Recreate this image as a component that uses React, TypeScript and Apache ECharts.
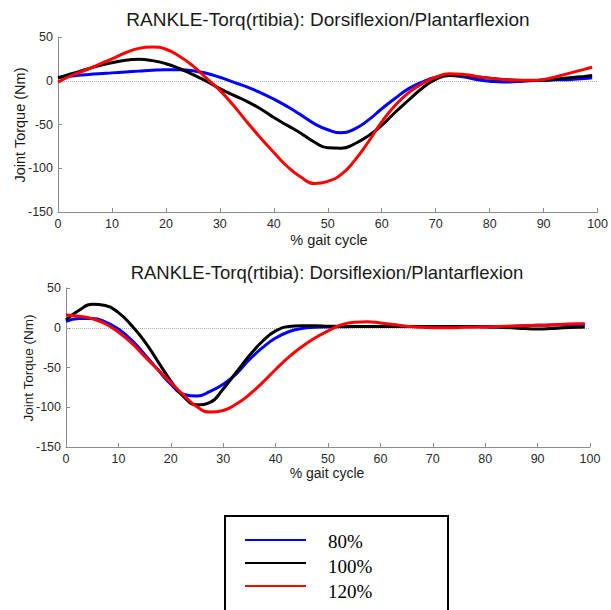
import React, { useEffect, useRef } from "react";
import * as echarts from "echarts";

// % gait cycle sample positions (shared by all series)
const gaitPct = [
  0, 2.5, 5, 7.5, 10, 12.5, 15, 17.5, 20, 22.5, 25, 27.5, 30, 32.5, 35, 37.5, 40,
  42.5, 45, 47.5, 50, 52.5, 55, 57.5, 60, 62.5, 65, 67.5, 70, 72.5, 75, 77.5, 80,
  82.5, 85, 87.5, 90, 92.5, 95, 97.5, 99,
];

// Top panel
const top80 = [
  4, 5.5, 6.8, 8, 9, 10, 11, 12, 12.5, 12.5, 11.5, 8.5, 4, -1.5, -7, -13.5, -21,
  -29.5, -39, -49, -56, -59.5, -55, -45, -32, -20, -9, -1.5, 4, 6, 4.5, 1.5, -0.5,
  -1.5, -1, 0, 0.5, 1, 1.5, 2.5, 3.5,
];
const top100 = [
  3, 8, 12.5, 17, 20.5, 23.5, 24.5, 23, 19.5, 14, 7, -0.5, -9, -16.5, -23.5, -32, -42,
  -51, -60, -70, -76.5, -77, -72, -63, -51, -36, -22, -8.5, 1.5, 6, 6, 4.5, 3, 1.5,
  0.5, 0.3, 0.5, 2, 3.5, 5, 6,
];
const top120 = [
  -1.5, 6, 12, 18.5, 25, 32, 37, 38.5, 36, 28, 17, 3, -11, -28, -47, -65, -82, -98,
  -110, -117.5, -115, -107, -91, -70, -47, -28, -13.5, -3.5, 4, 8, 7.5, 5, 3, 1.5,
  0.5, 0.5, 1.5, 5, 9, 13, 15.5,
];

// Bottom panel
const bot80 = [
  8, 11.5, 11.5, 7.5, -1.7, -15.5, -33.5, -52.5, -71, -84, -86, -80, -71, -58, -40,
  -25, -13, -5, -1, 0.5, 1, 1.3, 1.5, 1.5, 1.5, 1.5, 1.5, 1.5, 1.5, 1.5, 1.5, 1.5,
  1.5, 1.5, 2, 2.5, 3, 3.5, 3.5, 4, 4,
];
const bot100 = [
  10, 22, 29.5, 28, 19, 3, -17, -42, -67, -87, -97, -94, -77, -56, -35, -17, -4, 1.5,
  2.5, 2.5, 2, 1.7, 1.5, 1.5, 1.5, 1.5, 1.5, 1.5, 1.5, 1.5, 1.5, 1.5, 1, 0.5, 0, -1,
  -1.5, -1, 0, 0.5, 1,
];
const bot120 = [
  16, 14.5, 11.5, 5, -5.5, -19, -36, -52.5, -69, -85, -99.5, -106, -104, -96, -84,
  -69, -52.5, -37, -24, -13, -4, 3.5, 7, 7.5, 6, 4, 2, 0.5, 0, 0, 0.3, 0.7, 1, 1.5,
  2, 2.5, 3, 3.5, 4.5, 5, 5,
];

const seriesNames = ["80%", "100%", "120%"];
const seriesColors = ["#0000ff", "#000000", "#ff0000"];
const xTicks = { min: 0, max: 100, interval: 10 };
const yTicks = { min: -150, max: 50, interval: 50 };

const titleText = "RANKLE-Torq(rtibia): Dorsiflexion/Plantarflexion";
const xName = "% gait cycle";
const yName = "Joint Torque (Nm)";

const SANS = "'Liberation Sans', Arial, sans-serif";
const SERIF = "'Liberation Serif', 'Times New Roman', serif";

function toPairs(vals: number[]) {
  return gaitPct.map((x, i) => [x, vals[i]]);
}

function txt(
  text: string,
  x: number,
  y: number,
  size: number,
  family: string,
  align: string,
  rotation = 0,
  color = "#1a1a1a"
) {
  return {
    type: "text",
    x,
    y,
    rotation,
    silent: true,
    style: {
      text,
      fill: color,
      font: `${size}px ${family}`,
      align,
      verticalAlign: "middle",
      textAlign: align,
      textVerticalAlign: "middle",
    },
  };
}

export default function App() {
  const ref = useRef<HTMLDivElement>(null);

  useEffect(() => {
    if (!ref.current) return;
    const chart = echarts.init(ref.current, null, { renderer: "svg" });

    const axisCommon = {
      axisLine: { show: true, onZero: false, lineStyle: { color: "#8c8c8c", width: 1 } },
      axisTick: { show: true, inside: true, length: 4, lineStyle: { color: "#8c8c8c" } },
      splitLine: { show: false },
      axisLabel: { color: "#2a2a2a", fontSize: 12.5, fontFamily: SANS, margin: 5 },
    };

    const xAxis = [0, 1].map((g) => ({
      type: "value",
      gridIndex: g,
      ...xTicks,
      ...axisCommon,
    }));
    const yAxis = [0, 1].map((g) => ({
      type: "value",
      gridIndex: g,
      ...yTicks,
      ...axisCommon,
    }));

    const panels = [
      [top80, top100, top120],
      [bot80, bot100, bot120],
    ];

    const series: any[] = [];
    panels.forEach((vals, g) => {
      vals.forEach((v, k) => {
        const s: any = {
          type: "line",
          name: seriesNames[k],
          xAxisIndex: g,
          yAxisIndex: g,
          data: toPairs(v),
          smooth: 0.5,
          symbol: "none",
          showSymbol: false,
          lineStyle: { color: seriesColors[k], width: 3 },
          itemStyle: { color: seriesColors[k] },
          z: 3 + k,
        };
        if (k === 0) {
          s.markLine = {
            silent: true,
            symbol: "none",
            label: { show: false },
            lineStyle: { color: "#b0b0b0", type: "dotted", width: 1 },
            data: [{ yAxis: 0 }],
            z: 1,
          };
        }
        series.push(s);
      });
    });

    const legendRows = [540, 563, 586];
    const legendTextY = [541, 566, 591];
    const legendGraphics: any[] = [
      {
        type: "rect",
        shape: { x: 225, y: 516, width: 223, height: 120 },
        style: { fill: "#ffffff", stroke: "#000000", lineWidth: 2 },
        silent: true,
      },
    ];
    seriesNames.forEach((n, k) => {
      legendGraphics.push({
        type: "line",
        shape: { x1: 245, y1: legendRows[k], x2: 306, y2: legendRows[k] },
        style: { stroke: seriesColors[k], lineWidth: 2 },
        silent: true,
      });
      legendGraphics.push(txt(n, 328, legendTextY[k], 19, SERIF, "left", 0, "#000"));
    });

    chart.setOption({
      animation: false,
      backgroundColor: "#ffffff",
      grid: [
        { left: 58, top: 37, width: 541, height: 175 },
        { left: 66, top: 288, width: 524, height: 159 },
      ],
      xAxis,
      yAxis,
      series,
      graphic: [
        txt(titleText, 328, 19, 19, SANS, "center"),
        txt(xName, 329, 240, 14.5, SANS, "center"),
        txt(yName, 20, 125, 14.5, SANS, "center", Math.PI / 2),
        txt(titleText, 327, 272, 18.5, SANS, "center"),
        txt(xName, 327, 473, 14, SANS, "center"),
        txt(yName, 28, 368, 13.5, SANS, "center", Math.PI / 2),
        ...legendGraphics,
      ],
    });

    return () => chart.dispose();
  }, []);

  return (
    <div
      ref={ref}
      style={{ position: "fixed", left: 0, top: 0, width: 611, height: 610, background: "#fff" }}
    />
  );
}
